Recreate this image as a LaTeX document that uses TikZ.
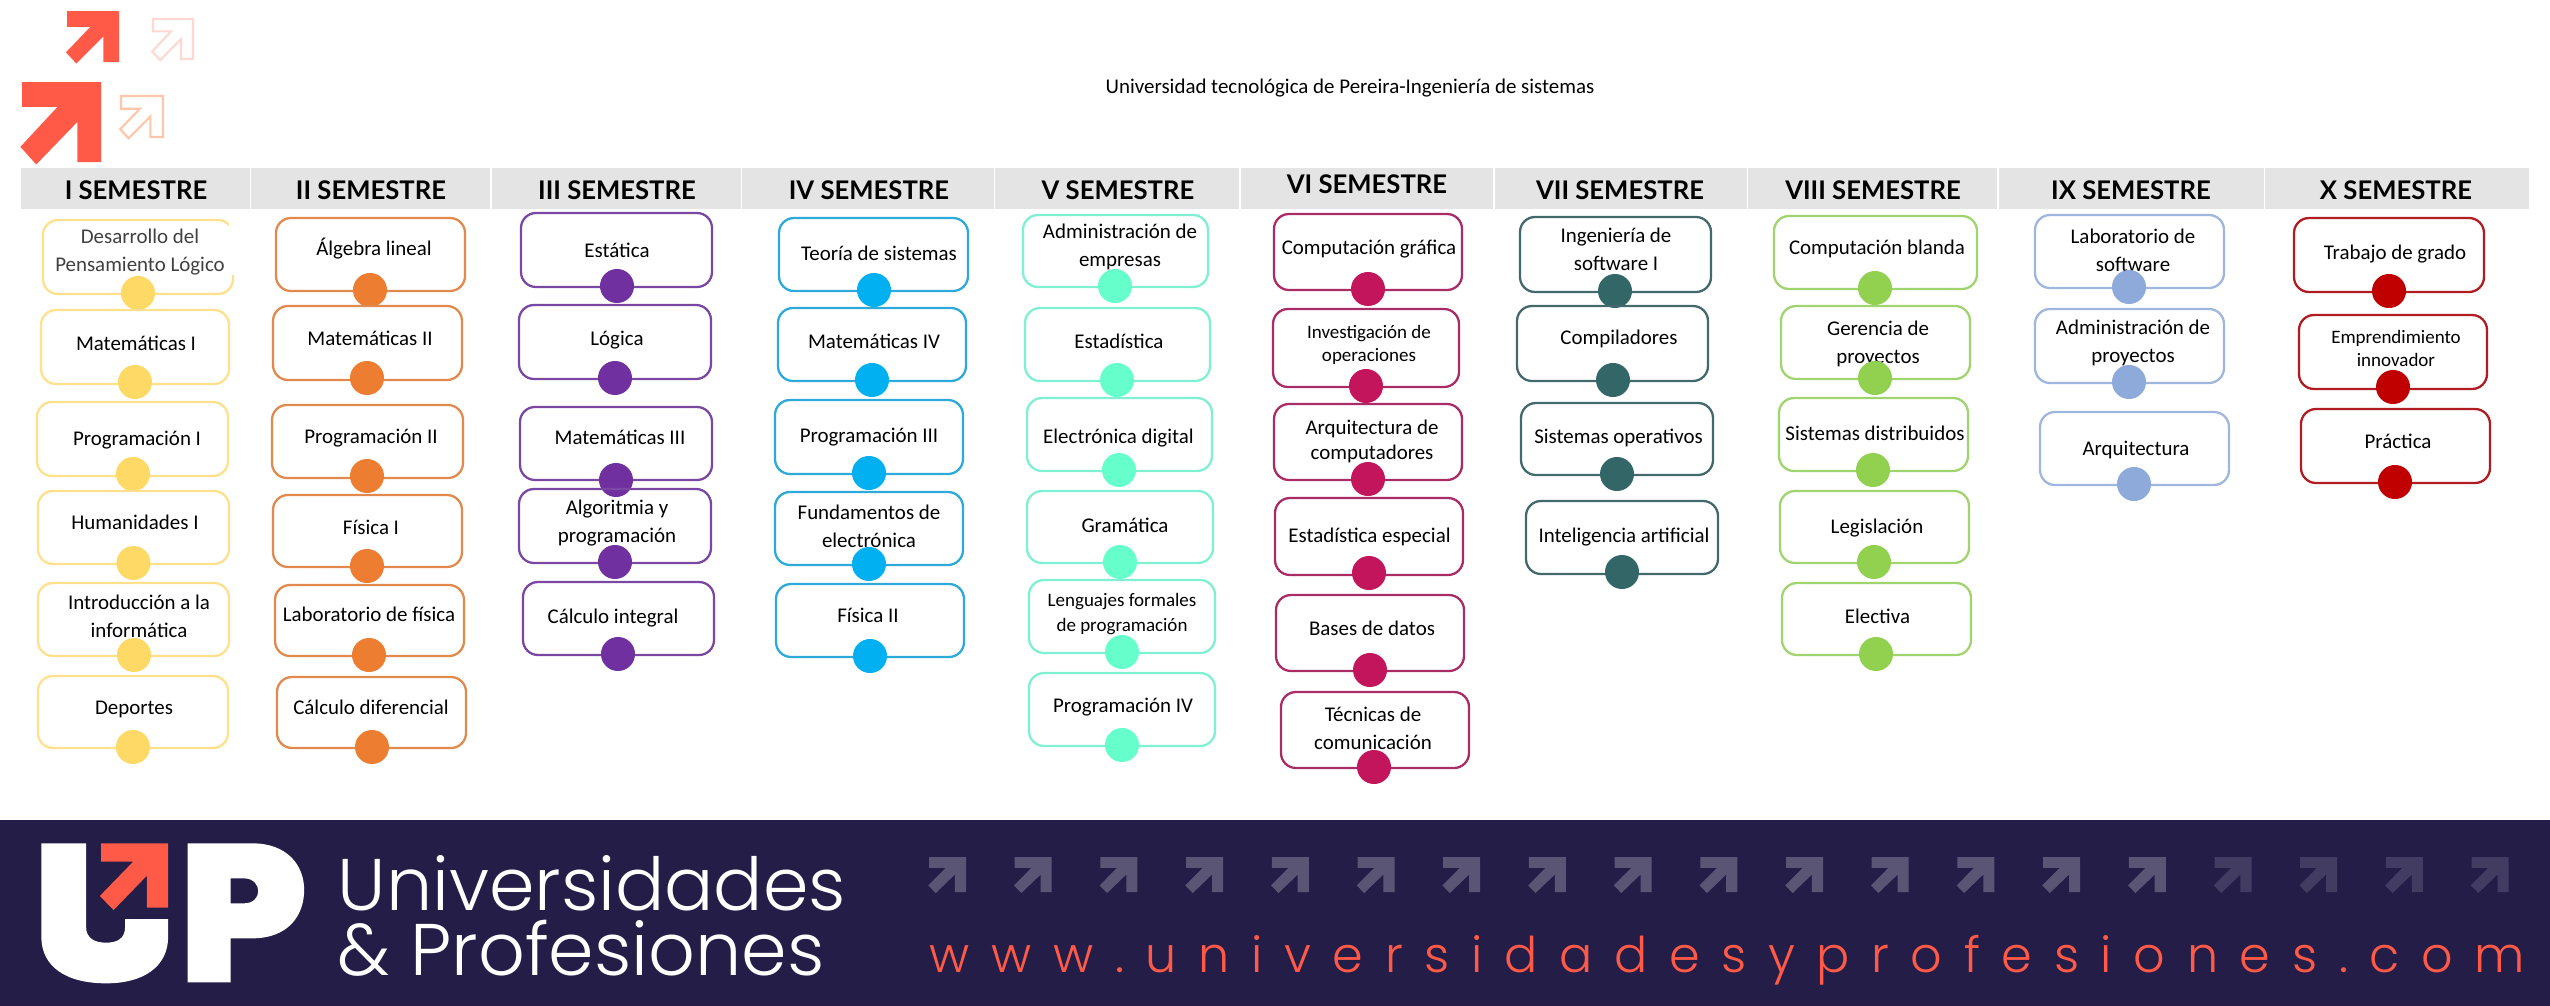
\documentclass[tikz,border=0pt]{standalone}
\usepackage{fontspec}
\setmainfont{Carlito}
\newfontfamily\headfont{Lato}
\newfontfamily\brandfont{Poppins Light}
\newfontfamily\urlfont[LetterSpace=44]{Poppins Light}
\definecolor{navy}{HTML}{231D48}
\definecolor{coral}{HTML}{FF5A47}
\definecolor{band}{HTML}{E4E4E4}
\definecolor{pale}{HTML}{FFD8D2}
\definecolor{peach}{HTML}{FFC6AA}
\definecolor{arrowa}{HTML}{5B5575}
\definecolor{arrowb}{HTML}{423C63}
\definecolor{la}{HTML}{FFE08C}\definecolor{da}{HTML}{FFD966}
\definecolor{lb}{HTML}{E2894E}\definecolor{db}{HTML}{ED7D31}
\definecolor{lc}{HTML}{7A48A2}\definecolor{dc}{HTML}{7030A0}
\definecolor{ld}{HTML}{2DAAD9}\definecolor{dd}{HTML}{00B0F0}
\definecolor{le}{HTML}{80F0D2}\definecolor{de}{HTML}{66FFCC}
\definecolor{lf}{HTML}{A92C66}\definecolor{df}{HTML}{C2155C}
\definecolor{lg}{HTML}{44696C}\definecolor{dg}{HTML}{336666}
\definecolor{lh}{HTML}{A0D46E}\definecolor{dh}{HTML}{92D050}
\definecolor{li}{HTML}{9FB6DE}\definecolor{di}{HTML}{8EAADB}
\definecolor{lj}{HTML}{B01C22}\definecolor{dj}{HTML}{C00000}
\tikzset{
  coursebox/.style={draw=l#1,line width=0.65pt,rounded corners=0.15cm,inner sep=0pt},
  coursedot/.style={circle,fill=d#1,inner sep=0pt,minimum size=0.34cm},
  coursetxt/.style={align=center,inner sep=0pt},
  bandbox/.style={fill=band,inner sep=0pt,minimum height=0.41cm},
  bandtxt/.style={font=\headfont\bfseries\fontsize{7.3}{9}\selectfont,inner sep=0pt,text height=6pt,text depth=0pt},
  normal/.style={font=\fontsize{5.95}{8}\selectfont},
  arq/.style={font=\fontsize{5.95}{7.1}\selectfont},
  mid/.style={font=\fontsize{5.4}{7.1}\selectfont},
  tiny/.style={font=\fontsize{5.4}{6.6}\selectfont},
}
% id, colour letter, size (x1,y1,x2,y2)(dotx,doty)
\def\course#1#2#3(#4,#5,#6,#7)(#8,#9){%
  \def\cid{#1}\def\ccol{#2}\def\csize{#3}%
  \node[coursebox=#2,minimum width={(#6-#4)*0.01cm},minimum height={(#7-#5)*0.01cm}] (b#1) at ({(#4+#6)/2},{(#5+#7)/2}) {};
  \def\cdotx{#8}\def\cdoty{#9}\coursetext}
\def\coursetext(#1,#2)#3{%
  \node[coursetxt,\csize] (t\cid) at (#1,#2) {\rule{0pt}{5.6pt}#3\rule[-1.2pt]{0pt}{0pt}};
  \node[coursedot=\ccol] (d\cid) at (\cdotx,\cdoty) {};}
% semester band: id, x1, x2, text x, text y, text
\newcommand\semband[6]{%
  \node[bandbox,minimum width={(#3-#2)*0.01cm}] (s#1) at ({(#2+#3)/2},188.5) {};
  \node[bandtxt] (h#1) at (#4,#5) {#6};}
% arrow shape in unit square
\def\arrowshape{(0,0) -- (1,0) -- (1,1) -- (.7,1) -- (.7,.5) -- (.18,1.03) -- (-.02,.81) -- (.45,.31) -- (0,.31) -- cycle}
\newcommand\fillarrow[5]{\begin{scope}[shift={(#2,#3)},x=#4*0.1mm,y=-#5*0.1mm]\fill[#1] \arrowshape;\end{scope}}
\newcommand\linearrow[5]{\begin{scope}[shift={(#2,#3)},x=#4*0.1mm,y=-#5*0.1mm]\draw[#1,line width=0.6pt] \arrowshape;\end{scope}}
\begin{document}
\begin{tikzpicture}[x=0.01cm,y=-0.01cm]
\useasboundingbox (0,0) rectangle (2550,1006);
\fill[white] (0,0) rectangle (2550,1006);
% corner arrows
\fillarrow{coral}{67}{11}{52}{51}
\fillarrow{coral}{22}{82}{79}{80}
\linearrow{pale}{153}{19}{40}{40}
\linearrow{peach}{121}{96}{42}{41}
% title
\node[font=\fontsize{5.95}{8}\selectfont,inner sep=0pt] (title) at (1350,88.5) {Universidad tecnológica de Pereira-Ingeniería de sistemas};
% bands
\semband{1}{21}{250}{136}{189}{I SEMESTRE}
\semband{2}{251}{490}{371}{189}{II SEMESTRE}
\semband{3}{492}{741}{617}{189}{III SEMESTRE}
\semband{4}{742}{994}{869}{189}{IV SEMESTRE}
\semband{5}{995}{1239}{1118}{189}{V SEMESTRE}
\semband{6}{1241}{1493}{1367}{183}{VI SEMESTRE}
\semband{7}{1495}{1747}{1620}{189}{VII SEMESTRE}
\semband{8}{1748}{1997}{1873}{189}{VIII SEMESTRE}
\semband{9}{1999}{2264}{2131}{189}{IX SEMESTRE}
\semband{10}{2265}{2529}{2396}{189}{X SEMESTRE}
% column I
\course{a1}{a}{normal}(43,220,233,294)(138,293)(140,250){\color[HTML]{404040}Desarrollo del\\\color[HTML]{404040}Pensamiento Lógico}
\course{a2}{a}{normal}(41,310,229,384)(135,382)(136,343){Matemáticas I}
\course{a3}{a}{normal}(37,402,228,476)(133,474)(137,438){Programación I}
\course{a4}{a}{normal}(38,491,229,564)(133.5,563)(135,522){Humanidades I}
\course{a5}{a}{normal}(38,583,229,656)(134,655)(139,616){Introducción a la\\informática}
\course{a6}{a}{normal}(38,676,228,748)(133,747)(134,707){Deportes}
% column II
\course{b1}{b}{normal}(276,218,465,291)(370,290)(374,248){Álgebra lineal}
\course{b2}{b}{normal}(273,306,462,380)(367,378)(370,338){Matemáticas II}
\course{b3}{b}{normal}(272,405,463,478)(367,476)(371,436){Programación II}
\course{b4}{b}{normal}(273,495,462,567)(367,566)(371,527){Física I}
\course{b5}{b}{normal}(275,585,464,656)(369,655)(369,614){Laboratorio de física}
\course{b6}{b}{normal}(277,677,466,748)(372,747)(371,707){Cálculo diferencial}
% column III
\course{c1}{c}{normal}(521,213,712,287)(617,286)(617,250){Estática}
\course{c2}{c}{normal}(519,305,711,379)(615,378)(617,338){Lógica}
\course{c3}{c}{normal}(520,407,712,480)(616,480)(620,437){Matemáticas III}
\course{c4}{c}{normal}(519,489,711,563)(615,562)(617,521){Algoritmia y\\programación}
\course{c5}{c}{normal}(523,582,714,655)(618,654)(613,616){Cálculo integral}
% column IV
\course{d1}{d}{normal}(779,218,968,291)(874,290)(879,253){Teoría de sistemas}
\course{d2}{d}{normal}(778,308,966,381)(872,380)(874,341){Matemáticas IV}
\course{d3}{d}{normal}(775,400,963,474)(869,473)(869,435){Programación III}
\course{d4}{d}{normal}(775,492,963,565)(869,564)(869,526){Fundamentos de\\electrónica}
\course{d5}{d}{normal}(776,584,964,657)(870,656)(868,615){Física II}
% column V
\course{e1}{e}{normal}(1023,215,1208,287)(1115,286)(1120,245){Administración de\\empresas}
\course{e2}{e}{normal}(1025,308,1210,381)(1117,380)(1119,341){Estadística}
\course{e3}{e}{normal}(1027,398,1212,471)(1119,470)(1118.5,436){Electrónica digital}
\course{e4}{e}{normal}(1027,491,1213,563)(1120,562)(1125,525){Gramática}
\course{e5}{e}{mid}(1029,580,1215,653)(1122,652)(1122,611.5){Lenguajes formales\\de programación}
\course{e6}{e}{normal}(1029,673,1215,746)(1122,745)(1123,705){Programación IV}
% column VI
\course{f1}{f}{normal}(1274,214,1462,290)(1368,289)(1369,247){Computación gráfica}
\course{f2}{f}{tiny}(1273,309,1459,387)(1366,386)(1369,342){Investigación de\\operaciones}
\course{f3}{f}{arq}(1274,404,1462,480)(1368,479)(1372,439.5){Arquitectura de\\computadores}
\course{f4}{f}{normal}(1275,498,1463,575)(1369,573)(1369.5,535){Estadística especial}
\course{f5}{f}{normal}(1276,595,1464,671)(1370,670)(1372,628){Bases de datos}
\course{f6}{f}{normal}(1281,692,1469,768)(1374,767)(1373,727.5){Técnicas de\\comunicación}
% column VII
\course{g1}{g}{normal}(1520,217,1711,292)(1615,291)(1616,249){Ingeniería de\\software I}
\course{g2}{g}{normal}(1517,306,1708,381)(1613,380)(1619,337){Compiladores}
\course{g3}{g}{normal}(1521,403,1713,475)(1617,474)(1618.5,436){Sistemas operativos}
\course{g4}{g}{normal}(1526,501,1718,574)(1622,572)(1624,535){Inteligencia artificial}
% column VIII
\course{h1}{h}{normal}(1774,216,1977,289)(1875,288)(1877,247){Computación blanda}
\course{h2}{h}{normal}(1781,306,1970,379)(1875,378)(1878,341.5){Gerencia de\\proyectos}
\course{h3}{h}{normal}(1779,398,1968,471)(1873,470)(1875,433){Sistemas distribuidos}
\course{h4}{h}{normal}(1780,491,1969,563)(1874,562)(1877,526){Legislación}
\course{h5}{h}{normal}(1782,583,1971,655)(1876,654)(1877.5,616){Electiva}
% column IX
\course{i1}{i}{normal}(2035,215,2224,288)(2129,287)(2133,249.5){Laboratorio de\\software}
\course{i2}{i}{normal}(2035,309,2224,383)(2129,382)(2133,341){Administración de\\proyectos}
\course{i3}{i}{normal}(2040,412,2229,485)(2134,484)(2136,448){Arquitectura}
% column X
\course{j1}{j}{normal}(2294,218,2484,292)(2389,291)(2395,252){Trabajo de grado}
\course{j2}{j}{tiny}(2299,315,2487,389)(2393,387)(2396,347.5){Emprendimiento\\innovador}
\course{j3}{j}{normal}(2301,409,2490,483)(2395,482)(2398,441){Práctica}
% gap in the first box
\fill[white] (229,217) rectangle (236,275);
% footer banner
\fill[navy] (0,820) rectangle (2550,1006);
\begin{scope}[shift={(0,810)},x=0.01cm/1.742,y=-0.01cm/3]
 \fill[white] (72,100) -- (150,100) -- (150,350) .. controls (150,385) and (165,398) .. (185,398) .. controls (205,398) and (218,385) .. (218,350) -- (218,327) -- (293,327) -- (293,380) .. controls (293,470) and (250,520) .. (185,520) .. controls (115,520) and (72,470) .. (72,380) -- cycle;
 \fill[white,even odd rule] (327,100) -- (440,100) .. controls (500,100) and (530,165) .. (530,240) .. controls (530,320) and (500,385) .. (440,385) -- (402,385) -- (402,517) -- (327,517) -- cycle
   (402,205) -- (425,205) .. controls (442,205) and (450,225) .. (450,243) .. controls (450,262) and (442,280) .. (425,280) -- (402,280) -- cycle;
 \fill[coral] (176,100) -- (293,100) -- (293,293) -- (256,293) -- (256,197) -- (198,300) -- (174,258) -- (232,155) -- (176,155) -- cycle;
\end{scope}
\node[font=\brandfont\fontsize{20.8}{18.5}\selectfont,text=white,anchor=north west,align=left,inner sep=0pt] (brand) at (337,854.3) {\rule{0pt}{15pt}Universidades\\\& Profesiones};
\foreach \k in {0,...,14}{\fillarrow{arrowa}{929+85.7*\k}{857}{37}{35}}
\foreach \k in {15,...,18}{\fillarrow{arrowb}{929+85.7*\k}{857}{37}{35}}
\node[font=\urlfont\fontsize{14}{16}\selectfont,text=coral,anchor=base west,inner sep=0pt] (url) at (929,972) {www.universidadesyprofesiones.com};
\end{tikzpicture}
\end{document}
